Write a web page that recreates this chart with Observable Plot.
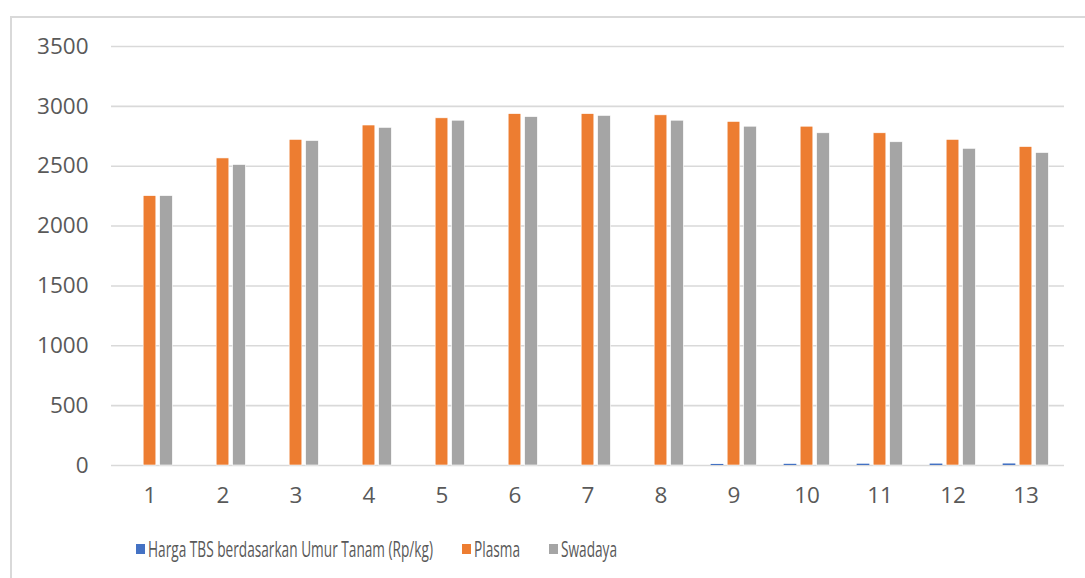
<!DOCTYPE html>
<html><head><meta charset="utf-8">
<script src="https://cdn.jsdelivr.net/npm/d3@7"></script>
<script src="https://cdn.jsdelivr.net/npm/@observablehq/plot@0.6"></script>
<style>
body{margin:0;background:#fff;}
#wrap{position:relative;width:1085px;height:578px;overflow:hidden;}
#frame{position:absolute;left:10px;top:16px;width:1100px;height:600px;border-left:2px solid #d9d9d9;border-top:2px solid #d9d9d9;}
#chart{position:absolute;left:0;top:0;}
#legend{position:absolute;left:136px;top:535px;display:flex;align-items:center;font-family:"Open Sans",sans-serif;font-size:21px;color:#595959;white-space:nowrap;}
.item{display:flex;align-items:center;margin-right:29px;}
.sw{width:9px;height:10px;margin-right:3px;flex:none;}
.lab{display:inline-block;overflow:visible;}
.lab span{display:inline-block;transform-origin:0 50%;}
</style>
</head><body>
<div id="wrap"><div id="frame"></div><div id="chart"></div><div id="legend"></div></div>
<script>
const categories = ["1","2","3","4","5","6","7","8","9","10","11","12","13"];
const seriesNames = ["Harga TBS berdasarkan Umur Tanam (Rp/kg)", "Plasma", "Swadaya"];
const harga   = [null,null,null,null,null,null,null,null,9,10,11,12,13];
const plasma  = [2250,2565,2720,2840,2900,2935,2935,2925,2870,2830,2775,2720,2660];
const swadaya = [2250,2510,2710,2820,2880,2910,2920,2880,2830,2775,2700,2645,2610];
const yTicks = [0,500,1000,1500,2000,2500,3000,3500];
const colors = ["#4472C4","#ED7D31","#A5A5A5"];

const rows = (vals) => categories.map((c,i)=>({cat:c, v:vals[i]})).filter(d=>d.v!=null);
const W = 1085, H = 520, mL = 111, mR = 21, mT = 46, mB = 55;
const bw = (W - mL - mR) / categories.length;
const barW = 13, inset = (bw - barW) / 2, step = 16.5;

const chart = Plot.plot({
  width: W, height: H,
  marginLeft: mL, marginRight: mR, marginTop: mT, marginBottom: mB,
  style: {fontFamily: "'Open Sans', sans-serif", fontSize: "22.5px", color: "#595959", background: "transparent"},
  x: {type: "band", domain: categories, padding: 0},
  y: {domain: [0, 3500]},
  marks: [
    Plot.ruleY(yTicks, {stroke: "#d9d9d9", strokeWidth: 1.6}),
    Plot.barY(rows(harga), {x: "cat", y: "v", fill: colors[0], insetLeft: inset, insetRight: inset, dx: -step}),
    Plot.barY(rows(plasma), {x: "cat", y: "v", fill: colors[1], insetLeft: inset, insetRight: inset, stroke: "white", strokeWidth: 0.6}),
    Plot.barY(rows(swadaya), {x: "cat", y: "v", fill: colors[2], insetLeft: inset, insetRight: inset, dx: step, stroke: "white", strokeWidth: 0.6}),
    Plot.axisY({ticks: yTicks, tickFormat: d3.format("d"), tickSize: 0, tickPadding: 23, label: null}),
    Plot.axisX({tickSize: 0, tickPadding: 22, label: null})
  ]
});
document.getElementById("chart").appendChild(chart);

const leg = document.getElementById("legend");
const spans = [];
seriesNames.forEach((n,i)=>{
  const it = document.createElement("div"); it.className = "item";
  const sw = document.createElement("div"); sw.className = "sw"; sw.style.background = colors[i];
  const lab = document.createElement("div"); lab.className = "lab";
  const t = document.createElement("span"); t.textContent = n;
  lab.appendChild(t);
  it.appendChild(sw); it.appendChild(lab); leg.appendChild(it);
  spans.push([lab, t]);
});
// condense legend text to match the narrow typeface of the original
const k = 285 / spans[0][1].getBoundingClientRect().width;
spans.forEach(([lab, t]) => {
  const w = t.getBoundingClientRect().width;
  lab.style.width = (w * k) + "px";
  t.style.transform = `scaleX(${k})`;
});
</script>
</body></html>
